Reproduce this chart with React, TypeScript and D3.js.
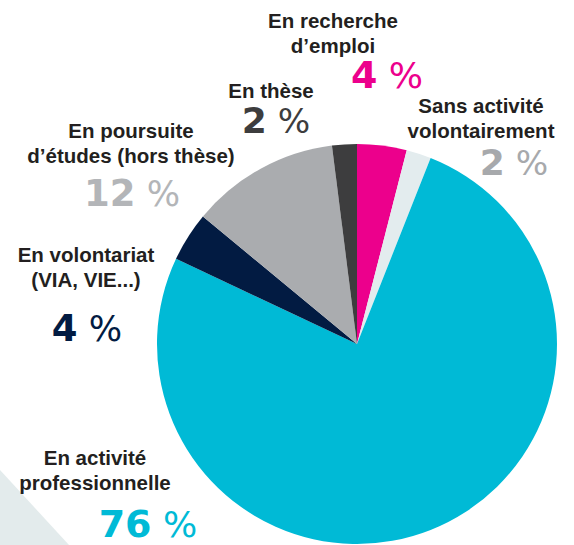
import React from "react";
import * as d3 from "d3";

const categories = [
  "En recherche d’emploi",
  "Sans activité volontairement",
  "En activité professionnelle",
  "En volontariat (VIA, VIE...)",
  "En poursuite d’études (hors thèse)",
  "En thèse",
];
const values = [4, 2, 76, 4, 12, 2];
const colors = ["#EC008C", "#E3ECEE", "#00BAD6", "#021B42", "#AAACAF", "#3D3D3E"];
const pctColors = ["#EC008C", "#A7A9AC", "#00BAD6", "#021B42", "#B3B5B8", "#3D3D3E"];
const labelLines = [
  ["En recherche", "d’emploi"],
  ["Sans activité", "volontairement"],
  ["En activité", "professionnelle"],
  ["En volontariat", "(VIA, VIE...)"],
  ["En poursuite", "d’études (hors thèse)"],
  ["En thèse"],
];

// label layout: [x center, first baseline, pct x center, pct baseline, pct size]
const labelPos = [
  [333, 28, 387, 88, 38],
  [481, 113, 514, 175, 36],
  [95, 465, 148, 537, 38],
  [86, 262, 87, 341, 37],
  [131, 138, 132, 206, 37],
  [271, 98, 276, 133, 36],
];

export default function App() {
  const W = 574, H = 545;
  const cx = 357, cy = 344, r = 200;
  const pie = d3.pie<number>().sort(null).value((d) => d);
  const arcs = pie(values);
  const arc = d3.arc<d3.PieArcDatum<number>>().innerRadius(0).outerRadius(r);
  const textFont = "'Liberation Sans', Arial, sans-serif";
  const numFont = "'DejaVu Sans', sans-serif";
  return (
    <svg width={W} height={H} style={{ position: "absolute", left: 0, top: 0 }}>
      <rect width={W} height={H} fill="#fff" />
      <polygon points="0,470 69,545 0,545" fill="#E3EBEC" />
      <g transform={`translate(${cx},${cy})`}>
        {arcs.map((a, i) => (
          <path key={i} d={arc(a) || ""} fill={colors[i]} />
        ))}
      </g>
      {categories.map((c, i) => {
        const [lx, ly, px, py, ps] = labelPos[i];
        return (
          <g key={c}>
            <text
              x={lx}
              y={ly}
              textAnchor="middle"
              fontFamily={textFont}
              fontWeight="bold"
              fontSize={20.5}
              fill="#231F20"
            >
              {labelLines[i].map((l, j) => (
                <tspan key={j} x={lx} dy={j === 0 ? 0 : 25}>
                  {l}
                </tspan>
              ))}
            </text>
            <text
              x={px}
              y={py}
              textAnchor="middle"
              fontFamily={numFont}
              fontSize={ps}
              fill={pctColors[i]}
            >
              <tspan fontWeight="bold">{values[i]}</tspan>
              <tspan fontWeight="normal" fontSize={ps * 0.95}> %</tspan>
            </text>
          </g>
        );
      })}
    </svg>
  );
}
